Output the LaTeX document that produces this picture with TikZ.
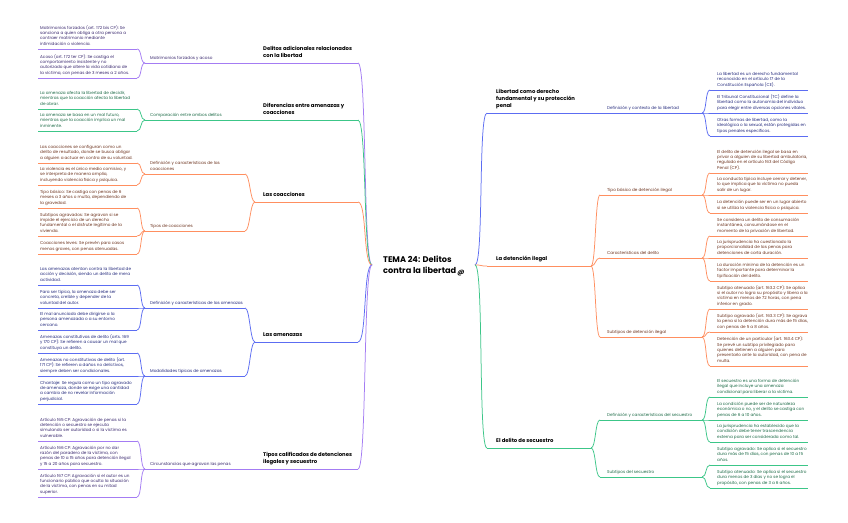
\documentclass[tikz,border=0pt]{standalone}
\usepackage{fontspec}
\setmainfont{Poppins}
\definecolor{Pline}{HTML}{A47CF3}
\definecolor{Ptext}{HTML}{3B2A70}
\definecolor{Gline}{HTML}{3CC688}
\definecolor{Gtext}{HTML}{1D6B47}
\definecolor{Oline}{HTML}{FF8F60}
\definecolor{Otext}{HTML}{6E3520}
\definecolor{Bline}{HTML}{5C6DF2}
\definecolor{Btext}{HTML}{262C7E}
\tikzset{
  leafnode/.style={font=\fontsize{4.15}{5.4}\selectfont, align=left, inner sep=0pt, yshift=1.9pt},
  subnode/.style={leafnode},
  mainnode/.style={font=\bfseries\fontsize{5.3}{7}\selectfont, align=left, inner sep=0pt, yshift=2.9pt, text=black},
  ln/.style={line width=0.75pt, draw=#1},
}
\newcommand\mm[8]{%
  \coordinate (#1-l) at (#4,#7);
  \coordinate (#1-r) at (#6,#7);
  \node[text=#3text, #2, anchor=south west] (#1) at (#5,#7) {#8\strut};
  \draw[ln=#3line] (#1-l) -- (#1-r);
}
\newcommand\cn[4][5]{\draw[ln=#2line] (#3) .. controls +(#1,0) and +(-#1,0) .. (#4);}
\begin{document}
\begin{tikzpicture}[x=1pt,y=-1pt]
\fill[white] (0,0) rectangle (848,522);
\useasboundingbox (0,0) rectangle (848,522);
% ---------- centre ----------
\node[anchor=south west, font=\bfseries\fontsize{8.2}{11}\selectfont, align=left, inner sep=0pt] (c) at (383,276.8) {TEMA 24: Delitos\\contra la libertad\strut};
\node[font=\bfseries\fontsize{6.5}{7}\selectfont, inner sep=0pt, xslant=0.2] (at) at (461,273.5) {@};
\coordinate (c-l) at (372,265);
\coordinate (c-r) at (475,265);
% ---------- left: Delitos adicionales ----------
\mm{p1}{leafnode}{P}{38}{40}{137}{49}{Matrimonios forzados (art. 172 bis CP): Se\\sanciona a quien obliga a otra persona a\\contraer matrimonio mediante\\intimidación o violencia.}
\mm{p2}{leafnode}{P}{38}{40}{137}{78}{Acoso (art. 172 ter CP): Se castiga el\\comportamiento insistente y no\\autorizado que altere la vida cotidiana de\\la víctima, con penas de 3 meses a 2 años.}
\mm{pA}{subnode}{P}{145}{150}{245}{63}{Matrimonios forzados y acoso}
\mm{P}{mainnode}{P}{255}{263}{358}{63}{Delitos adicionales relacionados\\con la libertad}
\cn{P}{p1-r}{pA-l}\cn{P}{p2-r}{pA-l}\cn{P}{pA-r}{P-l}
% ---------- left: Diferencias ----------
\mm{g1}{leafnode}{G}{38}{40}{137}{109}{La amenaza afecta la libertad de decidir,\\mientras que la coacción afecta la libertad\\de obrar.}
\mm{g2}{leafnode}{G}{38}{40}{137}{131}{La amenaza se basa en un mal futuro,\\mientras que la coacción implica un mal\\inminente.}
\mm{gA}{subnode}{G}{145}{150}{245}{120}{Comparación entre ambos delitos}
\mm{G}{mainnode}{G}{255}{263}{358}{120}{Diferencias entre amenazas y\\coacciones}
\cn{G}{g1-r}{gA-l}\cn{G}{g2-r}{gA-l}\cn{G}{gA-r}{G-l}
% ---------- left: Las coacciones ----------
\mm{o1}{leafnode}{O}{38}{40}{137}{163}{Las coacciones se configuran como un\\delito de resultado, donde se busca obligar\\a alguien a actuar en contra de su voluntad.}
\mm{o2}{leafnode}{O}{38}{40}{137}{185}{La violencia es el único medio comisivo, y\\se interpreta de manera amplia,\\incluyendo violencia física y psíquica.}
\mm{o3}{leafnode}{O}{38}{40}{137}{208}{Tipo básico: Se castiga con penas de 6\\meses a 3 años o multa, dependiendo de\\la gravedad.}
\mm{o4}{leafnode}{O}{38}{40}{137}{236}{Subtipos agravados: Se agravan si se\\impide el ejercicio de un derecho\\fundamental o el disfrute legítimo de la\\vivienda.}
\mm{o5}{leafnode}{O}{38}{40}{137}{254}{Coacciones leves: Se prevén para casos\\menos graves, con penas atenuadas.}
\mm{oA}{subnode}{O}{145}{150}{245}{174}{Definición y características de las\\coacciones}
\mm{oB}{subnode}{O}{145}{150}{245}{231}{Tipos de coacciones}
\mm{O}{mainnode}{O}{255}{263}{358}{202}{Las coacciones}
\cn{O}{o1-r}{oA-l}\cn{O}{o2-r}{oA-l}
\cn{O}{o3-r}{oB-l}\cn{O}{o4-r}{oB-l}\cn{O}{o5-r}{oB-l}
\cn{O}{oA-r}{O-l}\cn{O}{oB-r}{O-l}
% ---------- left: Las amenazas ----------
\mm{b1}{leafnode}{B}{38}{40}{137}{285}{Las amenazas atentan contra la libertad de\\acción y decisión, siendo un delito de mera\\actividad.}
\mm{b2}{leafnode}{B}{38}{40}{137}{308}{Para ser típica, la amenaza debe ser\\concreta, creíble y depender de la\\voluntad del autor.}
\mm{b3}{leafnode}{B}{38}{40}{137}{330}{El mal anunciado debe dirigirse a la\\persona amenazada o a su entorno\\cercano.}
\mm{b4}{leafnode}{B}{38}{40}{137}{353}{Amenazas constitutivas de delito (arts. 169\\y 170 CP): Se refieren a causar un mal que\\constituya un delito.}
\mm{b5}{leafnode}{B}{38}{40}{137}{376}{Amenazas no constitutivas de delito (art.\\171 CP): Se refieren a daños no delictivos,\\siempre deben ser condicionales.}
\mm{b6}{leafnode}{B}{38}{40}{137}{404}{Chantaje: Se regula como un tipo agravado\\de amenaza, donde se exige una cantidad\\a cambio de no revelar información\\perjudicial.}
\mm{bA}{subnode}{B}{145}{150}{245}{308}{Definición y características de las amenazas}
\mm{bB}{subnode}{B}{145}{150}{245}{376}{Modalidades típicas de amenazas}
\mm{B}{mainnode}{B}{255}{263}{358}{342}{Las amenazas}
\cn{B}{b1-r}{bA-l}\cn{B}{b2-r}{bA-l}\cn{B}{b3-r}{bA-l}
\cn{B}{b4-r}{bB-l}\cn{B}{b5-r}{bB-l}\cn{B}{b6-r}{bB-l}
\cn{B}{bA-r}{B-l}\cn{B}{bB-r}{B-l}
% ---------- left: Tipos calificados ----------
\mm{q1}{leafnode}{P}{38}{40}{137}{441}{Artículo 165 CP: Agravación de penas si la\\detención o secuestro se ejecuta\\simulando ser autoridad o si la víctima es\\vulnerable.}
\mm{q2}{leafnode}{P}{38}{40}{137}{469}{Artículo 166 CP: Agravación por no dar\\razón del paradero de la víctima, con\\penas de 10 a 15 años para detención ilegal\\y 15 a 20 años para secuestro.}
\mm{q3}{leafnode}{P}{38}{40}{137}{497}{Artículo 167 CP: Agravación si el autor es un\\funcionario público que oculta la situación\\de la víctima, con penas en su mitad\\superior.}
\mm{qA}{subnode}{P}{145}{150}{245}{469}{Circunstancias que agravan las penas}
\mm{Q}{mainnode}{P}{255}{263}{358}{469}{Tipos calificados de detenciones\\ilegales y secuestro}
\cn{P}{q1-r}{qA-l}\cn{P}{q2-r}{qA-l}\cn{P}{q3-r}{qA-l}\cn{P}{qA-r}{Q-l}
% ---------- left mains to centre ----------
\cn[9]{P}{P-r}{c-l}\cn[9]{G}{G-r}{c-l}\cn[9]{O}{O-r}{c-l}\cn[9]{B}{B-r}{c-l}\cn[9]{P}{Q-r}{c-l}
% ---------- right: Libertad ----------
\mm{R1}{mainnode}{B}{487}{496}{591}{113}{Libertad como derecho\\fundamental y su protección\\penal}
\mm{R1A}{subnode}{B}{600}{607}{702}{113}{Definición y contexto de la libertad}
\mm{r1}{leafnode}{B}{710}{717}{808}{90}{La libertad es un derecho fundamental\\reconocido en el artículo 17 de la\\Constitución Española (CE).}
\mm{r2}{leafnode}{B}{710}{717}{808}{113}{El Tribunal Constitucional (TC) define la\\libertad como la autonomía del individuo\\para elegir entre diversas opciones vitales.}
\mm{r3}{leafnode}{B}{710}{717}{808}{136}{Otras formas de libertad, como la\\ideológica o la sexual, están protegidas en\\tipos penales específicos.}
\cn{B}{R1-r}{R1A-l}\cn{B}{R1A-r}{r1-l}\cn{B}{R1A-r}{r2-l}\cn{B}{R1A-r}{r3-l}
% ---------- right: Detención ilegal ----------
\mm{R2}{mainnode}{O}{487}{496}{591}{266}{La detención ilegal}
\mm{R2A}{subnode}{O}{600}{607}{702}{195}{Tipo básico de detención ilegal}
\mm{R2B}{subnode}{O}{600}{607}{702}{258}{Características del delito}
\mm{R2C}{subnode}{O}{600}{607}{702}{337}{Subtipos de detención ilegal}
\mm{s1}{leafnode}{O}{710}{717}{808}{173}{El delito de detención ilegal se basa en\\privar a alguien de su libertad ambulatoria,\\regulado en el artículo 163 del Código\\Penal (CP).}
\mm{s2}{leafnode}{O}{710}{717}{808}{195}{La conducta típica incluye cerrar y detener,\\lo que implica que la víctima no pueda\\salir de un lugar.}
\mm{s3}{leafnode}{O}{710}{717}{808}{213}{La detención puede ser en un lugar abierto\\si se utiliza la violencia física o psíquica.}
\mm{s4}{leafnode}{O}{710}{717}{808}{236}{Se considera un delito de consumación\\instantánea, consumándose en el\\momento de la privación de libertad.}
\mm{s5}{leafnode}{O}{710}{717}{808}{258}{La jurisprudencia ha cuestionado la\\proporcionalidad de las penas para\\detenciones de corta duración.}
\mm{s6}{leafnode}{O}{710}{717}{808}{281}{La duración mínima de la detención es un\\factor importante para determinar la\\tipificación del delito.}
\mm{s7}{leafnode}{O}{710}{717}{808}{309}{Subtipo atenuado (art. 163.2 CP): Se aplica\\si el autor no logra su propósito y libera a la\\víctima en menos de 72 horas, con pena\\inferior en grado.}
\mm{s8}{leafnode}{O}{710}{717}{808}{332}{Subtipo agravado (art. 163.3 CP): Se agrava\\la pena si la detención dura más de 15 días,\\con penas de 5 a 8 años.}
\mm{s9}{leafnode}{O}{710}{717}{808}{366}{Detención de un particular (art. 163.4 CP):\\Se prevé un subtipo privilegiado para\\quienes detienen a alguien para\\presentarlo ante la autoridad, con pena de\\multa.}
\cn{O}{R2-r}{R2A-l}\cn{O}{R2-r}{R2B-l}\cn{O}{R2-r}{R2C-l}
\cn{O}{R2A-r}{s1-l}\cn{O}{R2A-r}{s2-l}\cn{O}{R2A-r}{s3-l}
\cn{O}{R2B-r}{s4-l}\cn{O}{R2B-r}{s5-l}\cn{O}{R2B-r}{s6-l}
\cn{O}{R2C-r}{s7-l}\cn{O}{R2C-r}{s8-l}\cn{O}{R2C-r}{s9-l}
% ---------- right: Secuestro ----------
\mm{R3}{mainnode}{G}{487}{496}{591}{448}{El delito de secuestro}
\mm{R3A}{subnode}{G}{600}{607}{702}{420}{Definición y características del secuestro}
\mm{R3B}{subnode}{G}{600}{607}{702}{477}{Subtipos del secuestro}
\mm{t1}{leafnode}{G}{710}{717}{808}{397}{El secuestro es una forma de detención\\ilegal que incluye una amenaza\\condicional para liberar a la víctima.}
\mm{t2}{leafnode}{G}{710}{717}{808}{420}{La condición puede ser de naturaleza\\económica o no, y el delito se castiga con\\penas de 6 a 10 años.}
\mm{t3}{leafnode}{G}{710}{717}{808}{442}{La jurisprudencia ha establecido que la\\condición debe tener trascendencia\\externa para ser considerada como tal.}
\mm{t4}{leafnode}{G}{710}{717}{808}{465}{Subtipo agravado: Se aplica si el secuestro\\dura más de 15 días, con penas de 10 a 15\\años.}
\mm{t5}{leafnode}{G}{710}{717}{808}{488}{Subtipo atenuado: Se aplica si el secuestro\\dura menos de 3 días y no se logra el\\propósito, con penas de 3 a 6 años.}
\cn{G}{R3-r}{R3A-l}\cn{G}{R3-r}{R3B-l}
\cn{G}{R3A-r}{t1-l}\cn{G}{R3A-r}{t2-l}\cn{G}{R3A-r}{t3-l}
\cn{G}{R3B-r}{t4-l}\cn{G}{R3B-r}{t5-l}
% ---------- centre to right mains ----------
\cn[9]{B}{c-r}{R1-l}\cn[9]{O}{c-r}{R2-l}\cn[9]{G}{c-r}{R3-l}
\end{tikzpicture}
\end{document}
